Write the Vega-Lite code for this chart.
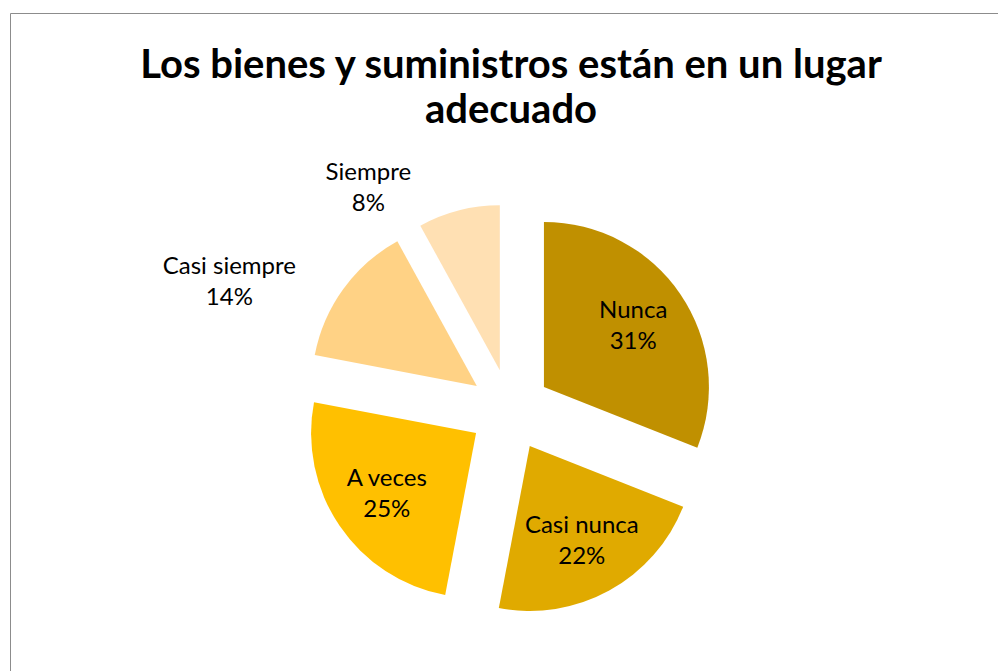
{
  "$schema": "https://vega.github.io/schema/vega-lite/v6.json",
  "width": 988,
  "height": 658,
  "autosize": "none",
  "padding": {"left": 10, "top": 13, "right": 0, "bottom": 0},
  "background": "white",
  "title": {
    "text": ["Los bienes y suministros están en un lugar", "adecuado"],
    "font": "Lato",
    "fontSize": 40,
    "fontWeight": "bold",
    "color": "#000000",
    "lineHeight": 45,
    "anchor": "middle",
    "baseline": "top",
    "offset": -118,
    "dx": 7
  },
  "data": {
    "values": [
      {"categoria": "Nunca", "porcentaje": 31, "orden": 1},
      {"categoria": "Casi nunca", "porcentaje": 22, "orden": 2},
      {"categoria": "A veces", "porcentaje": 25, "orden": 3},
      {"categoria": "Casi siempre", "porcentaje": 14, "orden": 4},
      {"categoria": "Siempre", "porcentaje": 8, "orden": 5}
    ]
  },
  "transform": [
    {"window": [{"op": "sum", "field": "porcentaje", "as": "t1"}], "sort": [{"field": "orden"}], "frame": [null, 0]},
    {"calculate": "datum.t1 - datum.porcentaje", "as": "t0"},
    {"calculate": "(datum.t0 + datum.t1) / 2", "as": "mid"},
    {"calculate": "sin(2 * PI * datum.mid / 100)", "as": "ex"},
    {"calculate": "cos(2 * PI * datum.mid / 100)", "as": "ey"},
    {"calculate": "[datum.categoria, datum.porcentaje + '%']", "as": "etiqueta"}
  ],
  "encoding": {
    "x": {"field": "ex", "type": "quantitative", "scale": {"domain": [-1, 1], "range": [459, 541], "zero": false, "nice": false}, "axis": null},
    "y": {"field": "ey", "type": "quantitative", "scale": {"domain": [-1, 1], "range": [438, 356], "zero": false, "nice": false}, "axis": null}
  },
  "layer": [
    {
      "mark": {"type": "arc", "outerRadius": 165},
      "encoding": {
        "theta": {"field": "t0", "type": "quantitative", "stack": null, "scale": {"domain": [0, 100], "zero": true}},
        "theta2": {"field": "t1"},
        "color": {
          "field": "categoria",
          "type": "nominal",
          "scale": {
            "domain": ["Nunca", "Casi nunca", "A veces", "Casi siempre", "Siempre"],
            "range": ["#C09000", "#E0AA00", "#FFC000", "#FFD285", "#FFE0B3"]
          },
          "legend": null
        }
      }
    },
    {
      "transform": [{"filter": "datum.porcentaje >= 20"}],
      "mark": {"type": "text", "radius": 108, "dy": -15, "font": "Lato", "fontSize": 24, "lineHeight": 31, "align": "center", "baseline": "middle", "color": "#000000"},
      "encoding": {
        "theta": {"field": "mid", "type": "quantitative", "stack": null, "scale": {"domain": [0, 100], "zero": true}},
        "text": {"field": "etiqueta"}
      }
    },
    {
      "transform": [{"filter": "datum.porcentaje < 20"}],
      "mark": {"type": "text", "radius": 207, "dx": -80, "dy": 3, "font": "Lato", "fontSize": 24, "lineHeight": 31, "align": "center", "baseline": "middle", "color": "#000000"},
      "encoding": {
        "theta": {"field": "mid", "type": "quantitative", "stack": null, "scale": {"domain": [0, 100], "zero": true}},
        "text": {"field": "etiqueta"}
      }
    }
  ],
  "config": {
    "view": {"stroke": "#8c8c8c", "strokeWidth": 1}
  }
}
